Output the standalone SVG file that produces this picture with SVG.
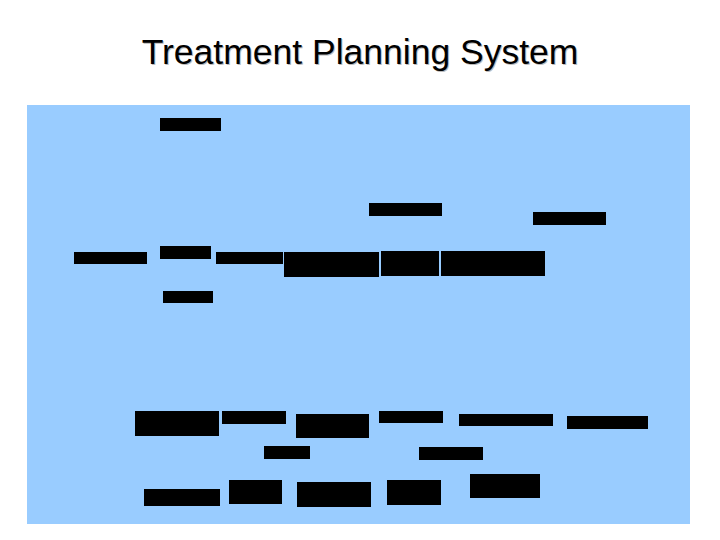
<svg xmlns="http://www.w3.org/2000/svg" width="720" height="540" viewBox="0 0 720 540">
<style>
.title{font-family:"Liberation Sans",Arial,sans-serif;font-size:35.5px;text-anchor:middle}
.bar{fill:#000}
</style>
<rect width="720" height="540" fill="#fff"/>
<text class="title" x="361" y="65" fill="#bbb">Treatment Planning System</text>
<text class="title" x="360" y="64" fill="#000">Treatment Planning System</text>
<rect id="panel" x="27" y="105" width="663" height="419" fill="#99CCFF"/>
<g id="bars">
<rect id="b1" class="bar" x="160" y="118" width="61" height="13"/>
<rect id="b2" class="bar" x="369" y="203" width="73" height="13"/>
<rect id="b3" class="bar" x="533" y="212" width="73" height="13"/>
<rect id="b4" class="bar" x="74" y="252" width="73" height="12"/>
<rect id="b5" class="bar" x="160" y="246" width="51" height="13"/>
<rect id="b6" class="bar" x="216" y="252" width="67" height="12"/>
<rect id="b7" class="bar" x="284" y="252" width="95" height="25"/>
<rect id="b8" class="bar" x="381" y="251" width="58" height="25"/>
<rect id="b9" class="bar" x="441" y="251" width="104" height="25"/>
<rect id="b10" class="bar" x="163" y="291" width="50" height="12"/>
<rect id="b11" class="bar" x="135" y="411" width="84" height="25"/>
<rect id="b12" class="bar" x="222" y="411" width="64" height="13"/>
<rect id="b13" class="bar" x="296" y="414" width="73" height="24"/>
<rect id="b14" class="bar" x="379" y="411" width="64" height="12"/>
<rect id="b15" class="bar" x="459" y="414" width="94" height="12"/>
<rect id="b16" class="bar" x="567" y="416" width="81" height="13"/>
<rect id="b17" class="bar" x="264" y="446" width="46" height="13"/>
<rect id="b18" class="bar" x="419" y="447" width="64" height="13"/>
<rect id="b19" class="bar" x="144" y="489" width="76" height="17"/>
<rect id="b20" class="bar" x="229" y="480" width="53" height="24"/>
<rect id="b21" class="bar" x="297" y="482" width="74" height="25"/>
<rect id="b22" class="bar" x="387" y="480" width="54" height="25"/>
<rect id="b23" class="bar" x="470" y="474" width="70" height="24"/>
</g>
</svg>
